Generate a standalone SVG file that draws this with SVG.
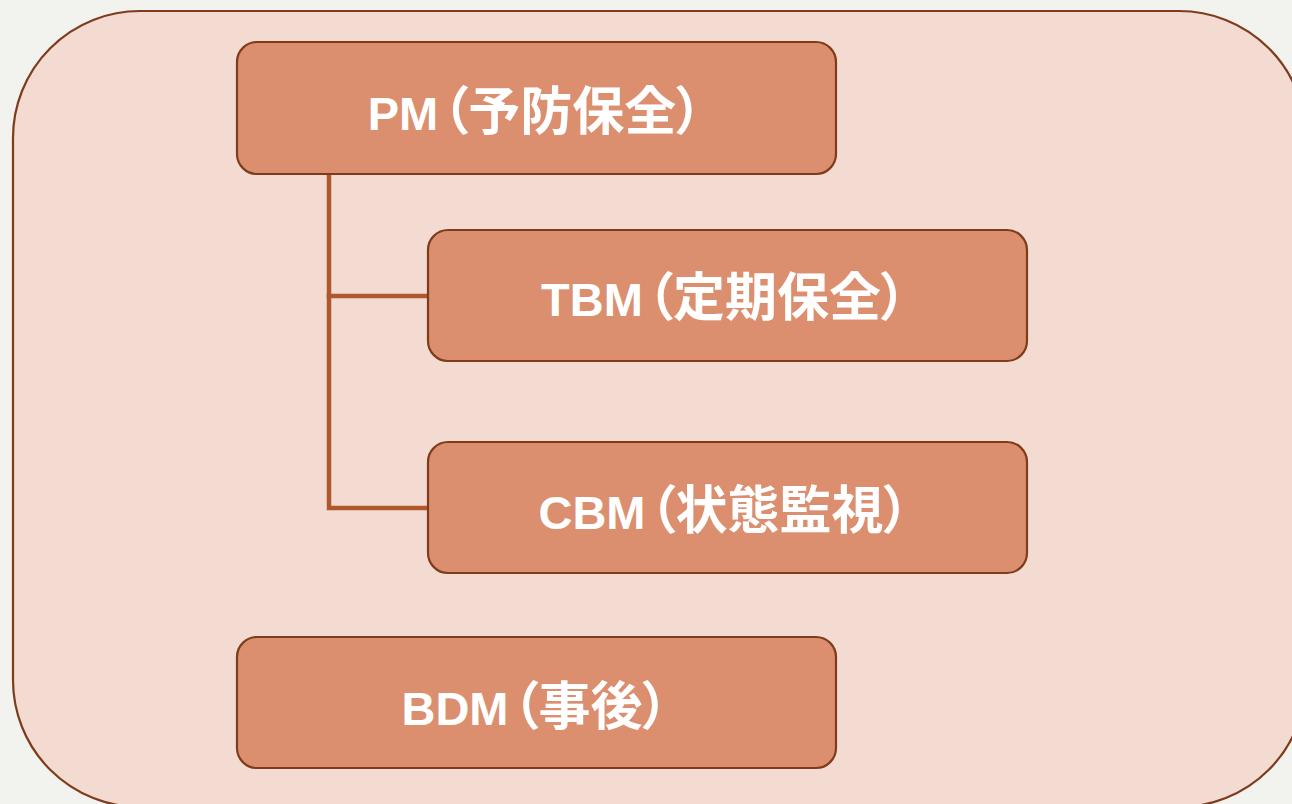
<svg xmlns="http://www.w3.org/2000/svg" width="1292" height="804" viewBox="0 0 1292 804">
<style>
.bg{fill:#f2f2ef}
.panel{fill:#f3dbd1;stroke:#7e3c1c;stroke-width:2.2}
.node{fill:#db8f6e;stroke:#7e3c1c;stroke-width:2.2}
.lbl{fill:#ffffff;font-family:"Liberation Sans","Noto Sans CJK JP",sans-serif;font-weight:bold;font-size:47px;text-anchor:middle}
.cjk{font-family:"Noto Sans CJK JP",sans-serif;font-size:52px;font-feature-settings:"palt"}
.conn{fill:none;stroke:#b0582c;stroke-width:4.5;stroke-linecap:square}
</style>
<rect class="bg" x="0" y="0" width="1292" height="804"/>
<g id="container">
<rect class="panel" x="13" y="11" width="1293" height="796" rx="127" ry="127"/>
</g>
<g id="connectors">
<path class="conn" d="M329 176 V508 H428"/>
<path class="conn" d="M329 296 H428"/>
</g>
<g id="node-pm">
<rect class="node" x="237" y="42" width="599" height="132" rx="20" ry="20"/>
<text class="lbl" x="535" y="130">PM<tspan class="cjk" dx="4">（予防保全）</tspan></text>
</g>
<g id="node-tbm">
<rect class="node" x="428" y="230" width="599" height="131" rx="20" ry="20"/>
<text class="lbl" x="724" y="316">TBM<tspan class="cjk" dx="4">（定期保全）</tspan></text>
</g>
<g id="node-cbm">
<rect class="node" x="428" y="442" width="599" height="131" rx="20" ry="20"/>
<text class="lbl" x="724" y="529">CBM<tspan class="cjk" dx="4">（状態監視）</tspan></text>
</g>
<g id="node-bdm">
<rect class="node" x="237" y="637" width="599" height="131" rx="20" ry="20"/>
<text class="lbl" x="535" y="725">BDM<tspan class="cjk" dx="4">（事後）</tspan></text>
</g>
</svg>
